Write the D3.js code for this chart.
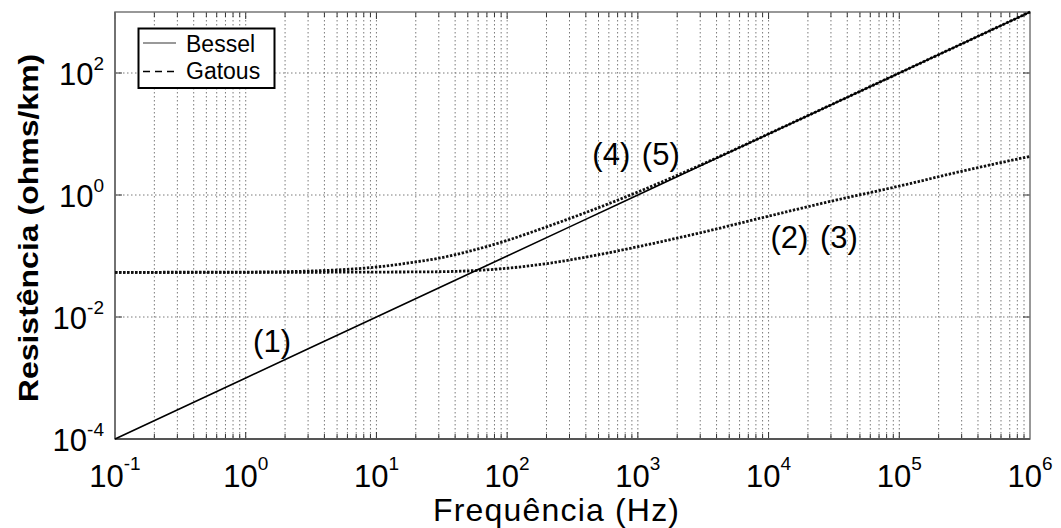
<!DOCTYPE html>
<html>
<head>
<meta charset="utf-8">
<script src="https://cdn.jsdelivr.net/npm/d3@7"></script>
<style>
  html, body { margin: 0; padding: 0; background: #fff; }
  svg { display: block; font-family: "Liberation Sans", Arial, sans-serif; }
</style>
</head>
<body>
<svg id="chart" width="1061" height="528"></svg>
<script>
// ---- data ----
const xTickExps = [-1, 0, 1, 2, 3, 4, 5, 6];
const yTickExps = [-4, -2, 0, 2];

// (1) Bessel solid line
const freqLine = [0.1, 1, 10, 100, 1000, 10000, 100000, 1000000];
const resLine  = [0.0001, 0.001, 0.01, 0.1, 1, 10, 100, 1000];

// (4)(5) dotted curve
const freqA = [0.1, 1, 3, 10, 20, 30, 50, 100, 200, 500, 1000, 2000, 5000, 10000, 100000, 1000000];
const resA  = [0.054, 0.0545, 0.0565, 0.066, 0.08, 0.092, 0.118, 0.18, 0.3, 0.62, 1.12, 2.1, 5.05, 10.05, 100, 1000];

// (2)(3) dotted curve
const freqB = [0.1, 1, 10, 30, 50, 100, 200, 500, 1000, 3000, 10000, 30000, 100000, 300000, 1000000];
const resB  = [0.054, 0.054, 0.0545, 0.0552, 0.057, 0.063, 0.075, 0.105, 0.142, 0.24, 0.45, 0.79, 1.4, 2.45, 4.3];

const legendLabels = ["Bessel", "Gatous"];
const curveLabels = [
  { text: "(1)", f: 1.59, r: 0.0027 },
  { text: "(4) (5)", f: 968, r: 3.1 },
  { text: "(2) (3)", f: 22300, r: 0.135 }
];

// ---- layout ----
const svg = d3.select("#chart");
const L = 115, R = 1030, T = 12, B = 439;

const x = d3.scaleLog().domain([0.1, 1e6]).range([L, R]);
const y = d3.scaleLog().domain([1e-4, 1e3]).range([B, T]);

// grid: vertical (major + minor)
const xGrid = [];
for (let e = -1; e < 6; e++) {
  for (let m = 1; m <= 9; m++) {
    const v = m * Math.pow(10, e);
    if (v > 0.1 * 1.0001) xGrid.push(v);
  }
}
const gridColor = "#7a7a7a";
svg.append("g").selectAll("line").data(xGrid).join("line")
  .attr("x1", d => x(d)).attr("x2", d => x(d))
  .attr("y1", T).attr("y2", B)
  .attr("stroke", gridColor).attr("stroke-width", 1)
  .attr("stroke-dasharray", "1.5,2.5");

// grid: horizontal at labeled decades
svg.append("g").selectAll("line").data(yTickExps.filter(e => e > -4).map(e => Math.pow(10, e))).join("line")
  .attr("x1", L).attr("x2", R)
  .attr("y1", d => y(d)).attr("y2", d => y(d))
  .attr("stroke", gridColor).attr("stroke-width", 1)
  .attr("stroke-dasharray", "1.5,2.5");

// tick marks (inside) bottom and top
const tickG = svg.append("g").attr("stroke", "#333").attr("stroke-width", 1);
xGrid.concat([0.1]).forEach(v => {
  const major = Math.abs(Math.log10(v) - Math.round(Math.log10(v))) < 1e-6;
  const len = major ? 7 : 5;
  tickG.append("line").attr("x1", x(v)).attr("x2", x(v)).attr("y1", B).attr("y2", B - len);
  tickG.append("line").attr("x1", x(v)).attr("x2", x(v)).attr("y1", T).attr("y2", T + len);
});
yTickExps.forEach(e => {
  const v = Math.pow(10, e);
  tickG.append("line").attr("x1", L).attr("x2", L + 7).attr("y1", y(v)).attr("y2", y(v));
  tickG.append("line").attr("x1", R).attr("x2", R - 7).attr("y1", y(v)).attr("y2", y(v));
});

// frame
svg.append("rect").attr("x", L).attr("y", T).attr("width", R - L).attr("height", B - T)
  .attr("fill", "none").attr("stroke", "#777").attr("stroke-width", 1.5);
svg.append("line").attr("x1", L).attr("x2", R).attr("y1", B).attr("y2", B)
  .attr("stroke", "#555").attr("stroke-width", 2);
svg.append("line").attr("x1", L).attr("x2", L).attr("y1", T).attr("y2", B)
  .attr("stroke", "#666").attr("stroke-width", 1.5);

// series
const line = d3.line().x(d => x(d[0])).y(d => y(d[1])).curve(d3.curveMonotoneX);
const plotG = svg.append("g");
plotG.append("path").datum(d3.zip(freqA, resA)).attr("d", line)
  .attr("fill", "none").attr("stroke", "#111").attr("stroke-width", 2.8)
  .attr("stroke-dasharray", "2.4,1.6");
plotG.append("path").datum(d3.zip(freqB, resB)).attr("d", line)
  .attr("fill", "none").attr("stroke", "#111").attr("stroke-width", 2.8)
  .attr("stroke-dasharray", "2.4,1.6");
plotG.append("path").datum(d3.zip(freqLine, resLine)).attr("d", line)
  .attr("fill", "none").attr("stroke", "#000").attr("stroke-width", 1.6);

// x tick labels
const xl = svg.append("g").attr("font-size", 31).attr("fill", "#000");
xTickExps.forEach(e => {
  const t = xl.append("text").attr("x", x(Math.pow(10, e))).attr("y", 487).attr("text-anchor", "middle");
  t.append("tspan").text("10");
  t.append("tspan").attr("font-size", 19).attr("dy", -17).text(e);
});

// y tick labels
const yl = svg.append("g").attr("font-size", 31).attr("fill", "#000");
yTickExps.forEach(e => {
  const t = yl.append("text").attr("x", 104).attr("y", y(Math.pow(10, e)) + 12).attr("text-anchor", "end");
  t.append("tspan").text("10");
  t.append("tspan").attr("font-size", 19).attr("dy", -15).text(e);
});

// axis titles
svg.append("text").attr("x", 556).attr("y", 521).attr("text-anchor", "middle")
  .attr("font-size", 32).attr("fill", "#000").attr("textLength", 246).text("Frequência (Hz)");
svg.append("text").attr("transform", "translate(38,228) rotate(-90) scale(1,0.85)")
  .attr("text-anchor", "middle").attr("font-size", 32).attr("font-weight", "bold")
  .attr("fill", "#000").text("Resistência (ohms/km)");

// curve labels
svg.append("g").selectAll("text").data(curveLabels).join("text")
  .attr("x", d => x(d.f)).attr("y", d => y(d.r))
  .attr("font-size", 31).attr("fill", "#000").attr("word-spacing", 3)
  .attr("text-anchor", "middle").text(d => d.text);

// legend
const lg = svg.append("g");
lg.append("rect").attr("x", 138.5).attr("y", 28.5).attr("width", 136).attr("height", 59.5)
  .attr("fill", "#fff").attr("stroke", "#000").attr("stroke-width", 2);
lg.append("line").attr("x1", 143).attr("x2", 176).attr("y1", 43).attr("y2", 43)
  .attr("stroke", "#777").attr("stroke-width", 1.6);
lg.append("line").attr("x1", 143).attr("x2", 176).attr("y1", 71.5).attr("y2", 71.5)
  .attr("stroke", "#000").attr("stroke-width", 1.6).attr("stroke-dasharray", "7,5");
lg.selectAll("text.lab").data(legendLabels).join("text").attr("class", "lab")
  .attr("x", 186).attr("y", (d, i) => 51.5 + i * 27)
  .attr("font-size", 23).attr("fill", "#000").text(d => d);
</script>
</body>
</html>
